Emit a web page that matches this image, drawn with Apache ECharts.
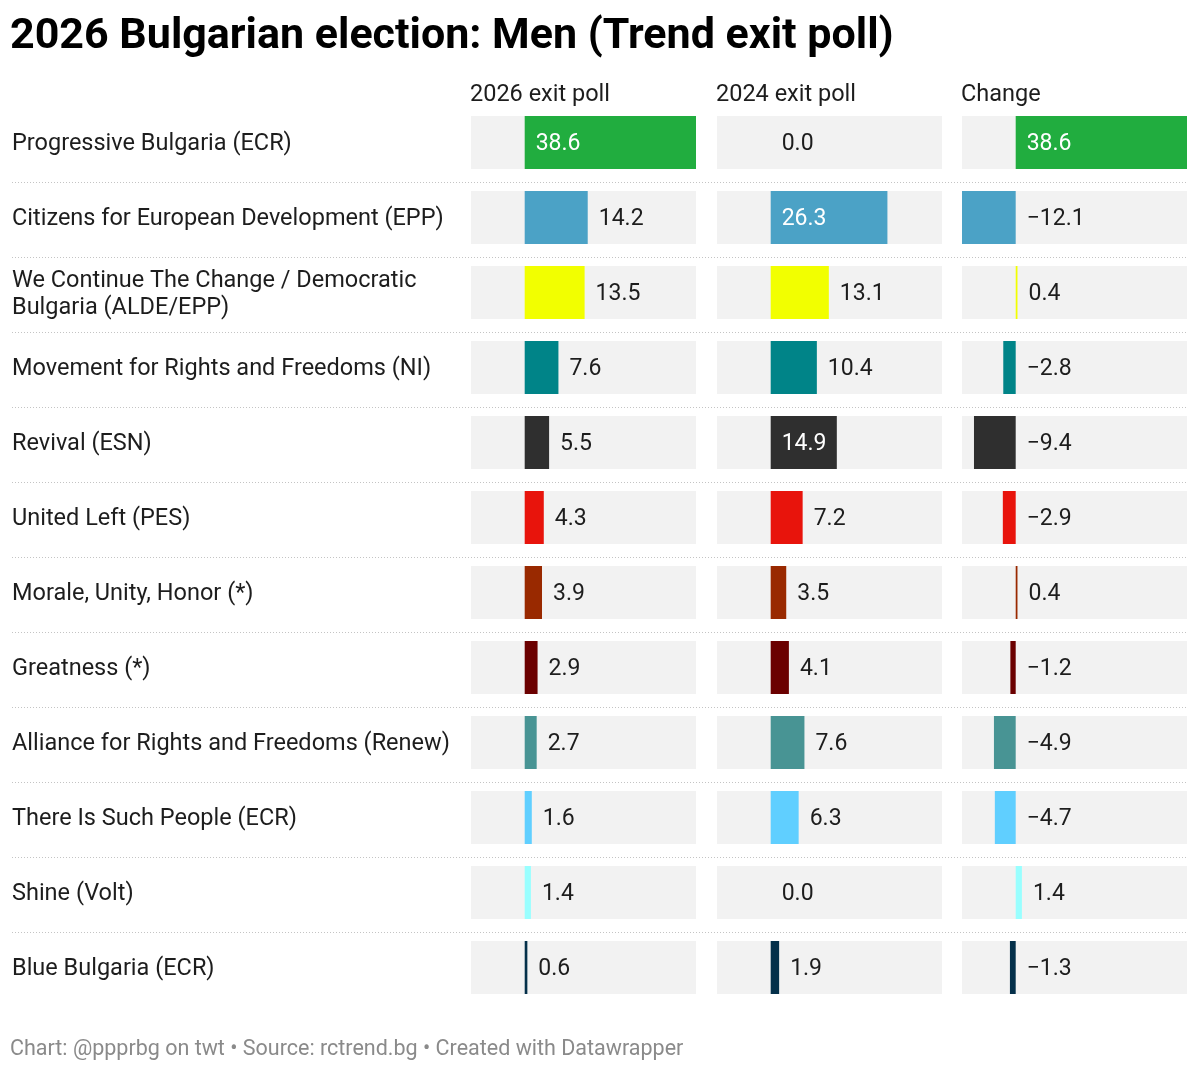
<!DOCTYPE html>
<html>
<head>
<meta charset="utf-8">
<script src="https://cdn.jsdelivr.net/npm/echarts@6/dist/echarts.min.js"></script>
<style>
  html, body { margin: 0; padding: 0; background: #fff; }
  #chart { width: 1200px; height: 1070px; }
</style>
</head>
<body>
<div id="chart"></div>
<script>
// parties, top to bottom
const parties = [
    'Progressive Bulgaria (ECR)',
    'Citizens for European Development (EPP)',
    'We Continue The Change / Democratic Bulgaria (ALDE/EPP)',
    'Movement for Rights and Freedoms (NI)',
    'Revival (ESN)',
    'United Left (PES)',
    'Morale, Unity, Honor (*)',
    'Greatness (*)',
    'Alliance for Rights and Freedoms (Renew)',
    'There Is Such People (ECR)',
    'Shine (Volt)',
    'Blue Bulgaria (ECR)'
];
const poll2026 = [38.6, 14.2, 13.5, 7.6, 5.5, 4.3, 3.9, 2.9, 2.7, 1.6, 1.4, 0.6];
const poll2024 = [0.0, 26.3, 13.1, 10.4, 14.9, 7.2, 3.5, 4.1, 7.6, 6.3, 0.0, 1.9];
const change = [38.6, -12.1, 0.4, -2.8, -9.4, -2.9, 0.4, -1.2, -4.9, -4.7, 1.4, -1.3];
const partyColors = [
    '#21ad3f', '#4ba2c6', '#f2ff00', '#008488', '#2f2f2f', '#e8140c',
    '#992900', '#6b0000', '#489494', '#60cfff', '#99ffff', '#04304a'
];
const columnTitles = ['2026 exit poll', '2024 exit poll', 'Change'];

const FONT = 'Roboto';
const TOP = 105;
const ROWS_H = 900;
const columnLefts = [471, 717, 962];
const COL_W = 225;
// shared scale across all three columns
const scaleMin = Math.min(...poll2026, ...poll2024, ...change);
const scaleMax = Math.max(...poll2026, ...poll2024, ...change);

const fmt = v => v.toFixed(1).replace('-', '\u2212');

const columnData = [poll2026, poll2024, change];

// grid 0: row names + dotted separators, full width
const grids = [{ left: 12, right: 12, top: TOP + 2, height: ROWS_H }];
const xAxes = [{ gridIndex: 0, type: 'value', show: false, min: 0, max: 1 }];
const yAxes = [{
    gridIndex: 0,
    type: 'category',
    data: parties,
    inverse: true,
    axisLine: { show: false },
    axisTick: { show: false },
    axisLabel: {
        inside: true,
        margin: 0,
        fontFamily: FONT,
        fontSize: 23.5,
        color: '#1d1d1d',
        lineHeight: 27,
        width: 445,
        overflow: 'break'
    },
    splitLine: {
        show: true,
        showMinLine: false,
        showMaxLine: false,
        lineStyle: { color: '#c4c4c4', type: [1, 2], width: 1 }
    }
}];
const series = [];

columnData.forEach((values, k) => {
    const g = k + 1;
    grids.push({ left: columnLefts[k], width: COL_W, top: TOP, height: ROWS_H });
    xAxes.push({ gridIndex: g, type: 'value', show: false, min: scaleMin, max: scaleMax });
    yAxes.push({ gridIndex: g, type: 'category', data: parties, inverse: true, show: false });
    series.push({
        type: 'bar',
        xAxisIndex: g,
        yAxisIndex: g,
        barWidth: 53,
        showBackground: true,
        backgroundStyle: { color: '#f2f2f2' },
        silent: true,
        data: values.map((v, i) => {
            const inside = v > 14.5;
            return {
                value: v,
                itemStyle: { color: partyColors[i] },
                label: {
                    show: true,
                    position: inside ? 'insideLeft' : 'right',
                    distance: 11,
                    offset: [0, 2],
                    color: inside ? '#ffffff' : '#1d1d1d',
                    fontFamily: FONT,
                    fontSize: 23,
                    formatter: () => fmt(v)
                }
            };
        })
    });
});

const titles = [{
    text: '2026 Bulgarian election: Men (Trend exit poll)',
    left: 10,
    top: 16,
    padding: 0,
    textStyle: { fontFamily: FONT, fontSize: 43, fontWeight: 'bold', color: '#000' }
}, {
    text: 'Chart: @ppprbg on twt \u2022 Source: rctrend.bg \u2022 Created with Datawrapper',
    left: 10,
    top: 1039,
    padding: 0,
    textStyle: { fontFamily: FONT, fontSize: 21.5, fontWeight: 'normal', color: '#8a8a8a' }
}];
columnTitles.forEach((t, k) => {
    titles.push({
        text: t,
        left: columnLefts[k] - 1,
        top: 83,
        padding: 0,
        textStyle: { fontFamily: FONT, fontSize: 23.5, fontWeight: 'normal', color: '#1d1d1d' }
    });
});

const chart = echarts.init(document.getElementById('chart'), null, { renderer: 'canvas' });
chart.setOption({
    backgroundColor: '#ffffff',
    animation: false,
    title: titles,
    grid: grids,
    xAxis: xAxes,
    yAxis: yAxes,
    series: series
});
</script>
</body>
</html>
